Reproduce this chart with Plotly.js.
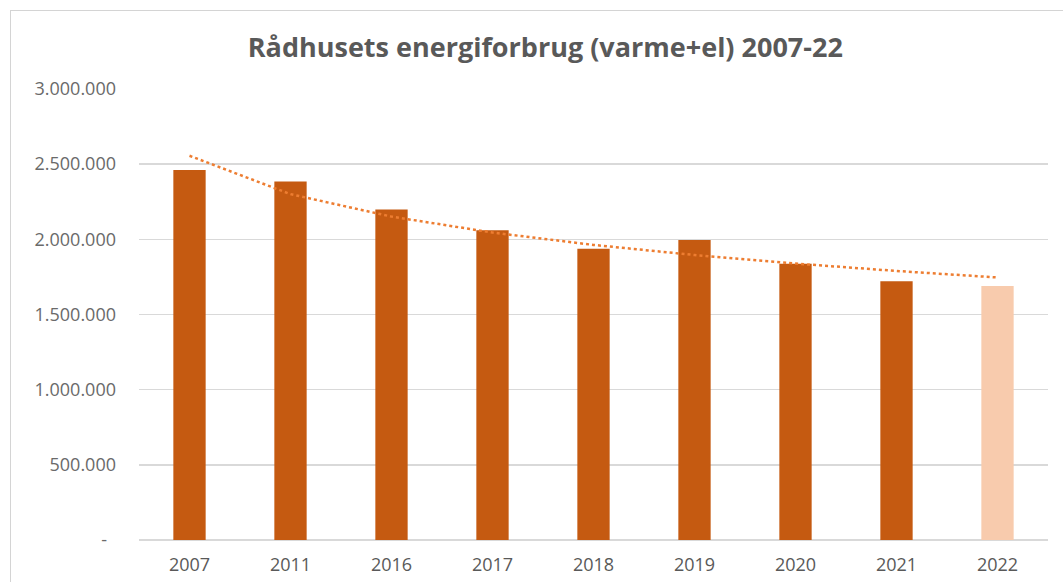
<!DOCTYPE html>
<html>
<head>
<meta charset="utf-8">
<script src="https://cdn.plot.ly/plotly-3.0.1.min.js"></script>
<style>
  html, body { margin: 0; padding: 0; background: #fff; }
  #chart { width: 1063px; height: 582px; }
  #frame { position: absolute; left: 10px; top: 10px; width: 1100px; height: 600px;
           border-left: 1.5px solid #d4d4d4; border-top: 1.5px solid #d4d4d4; pointer-events: none; }
</style>
</head>
<body>
<div id="chart"></div>
<div id="frame"></div>
<script>
const years = ["2007", "2011", "2016", "2017", "2018", "2019", "2020", "2021", "2022"];
const consumption = [2462000, 2384000, 2198000, 2060000, 1938000, 1995000, 1838000, 1722000, 1689000];
const barColors = ["#C55A11", "#C55A11", "#C55A11", "#C55A11", "#C55A11", "#C55A11", "#C55A11", "#C55A11", "#F8CBAD"];
const yTickVals = [0, 500000, 1000000, 1500000, 2000000, 2500000, 3000000];
const yTickText = ["-\u2002", "500.000", "1.000.000", "1.500.000", "2.000.000", "2.500.000", "3.000.000"];

// Logarithmic trendline (as in Excel): y = a + b*ln(i), i = 1..n
const lx = consumption.map((_, i) => Math.log(i + 1));
const mx = lx.reduce((s, v) => s + v, 0) / lx.length;
const my = consumption.reduce((s, v) => s + v, 0) / consumption.length;
let sxy = 0, sxx = 0;
lx.forEach((v, i) => { sxy += (v - mx) * (consumption[i] - my); sxx += (v - mx) * (v - mx); });
const b = sxy / sxx, a = my - b * mx;
const trend = lx.map(v => a + b * v);

const data = [
  { type: "bar", x: years, y: consumption, marker: { color: barColors }, width: 0.32, hoverinfo: "x+y" },
  { type: "scatter", mode: "lines", x: years, y: trend,
    line: { color: "#ED7D31", width: 2.5, dash: "dot" }, hoverinfo: "skip" }
];

const layout = {
  width: 1063, height: 582,
  margin: { l: 139, r: 15, t: 89, b: 42 },
  paper_bgcolor: "#ffffff", plot_bgcolor: "#ffffff",
  showlegend: false,
  font: { family: "Open Sans, sans-serif", color: "#595959" },
  title: { text: "<b>Rådhusets energiforbrug (varme+el) 2007-22</b>",
           font: { family: "Open Sans, sans-serif", size: 27, color: "#595959" },
           xref: "container", yref: "container", x: 0.513, xanchor: "center", y: 0.919, yanchor: "middle" },
  xaxis: { type: "category", showgrid: false, showline: false, zeroline: false, ticks: "",
           tickfont: { size: 18, color: "#595959" }, ticklabelstandoff: 12 },
  yaxis: { range: [0, 3000000], tickvals: yTickVals, ticktext: yTickText, showgrid: true,
           gridcolor: "#D9D9D9", gridwidth: 1.5, zeroline: true, zerolinecolor: "#D9D9D9", zerolinewidth: 1.5,
           showline: false, ticks: "", tickfont: { size: 18, color: "#6a6a6a" }, ticklabelstandoff: 22 }
};

Plotly.newPlot("chart", data, layout, { displayModeBar: false, staticPlot: true });
</script>
</body>
</html>
